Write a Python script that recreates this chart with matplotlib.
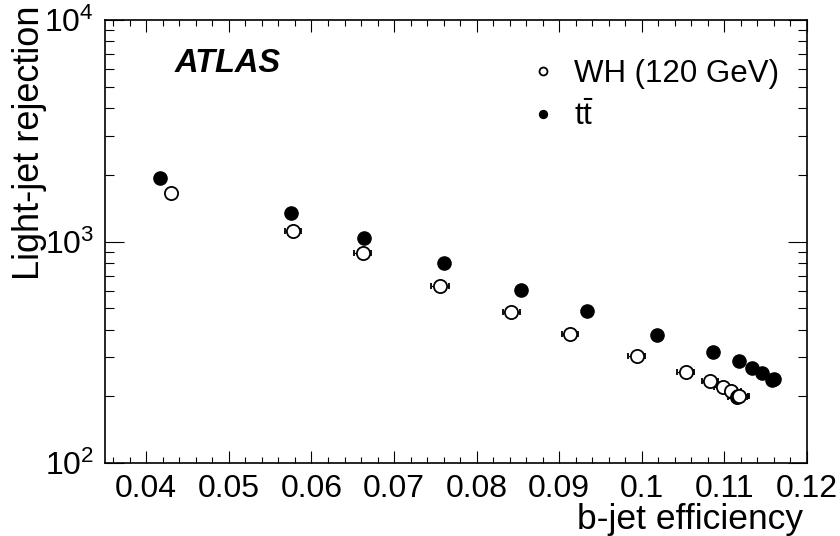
import matplotlib
matplotlib.use("Agg")
import matplotlib.pyplot as plt
from matplotlib.ticker import MultipleLocator, LogLocator
import numpy as np

plt.rcParams['font.family'] = 'Liberation Sans'
plt.rcParams['mathtext.fontset'] = 'custom'
plt.rcParams['mathtext.rm'] = 'Liberation Sans'
plt.rcParams['mathtext.it'] = 'Liberation Sans:italic'

# WH (120 GeV) sample, open markers
wh_eff = [0.04294, 0.05776, 0.06621, 0.07557, 0.08422, 0.09131, 0.09937,
          0.1053, 0.10823, 0.1098, 0.11085, 0.11158, 0.11170, 0.11180]
wh_rej = [1661, 1119, 885, 632, 482, 381, 305, 257, 235, 221, 212, 199, 201, 200]
wh_err = [0.0, 0.0010, 0.0010, 0.0011, 0.0010, 0.0010, 0.0010,
          0.0010, 0.0010, 0.0011, 0.0011, 0.0012, 0.0012, 0.0012]

# ttbar sample, filled markers
tt_eff = [0.04165, 0.05748, 0.06642, 0.07609, 0.08539, 0.09337, 0.1018,
          0.1086, 0.11174, 0.11331, 0.11452, 0.11572, 0.11600]
tt_rej = [1935, 1345, 1037, 799, 604, 486, 378, 317, 289, 268, 255, 237, 239]

xticks = [0.04, 0.05, 0.06, 0.07, 0.08, 0.09, 0.1, 0.11, 0.12]
xtick_labels = ['0.04', '0.05', '0.06', '0.07', '0.08', '0.09', '0.1', '0.11', '0.12']

fig = plt.figure(figsize=(8.4, 5.36), dpi=100)
ax = fig.add_axes([105 / 840, 1 - 463 / 536, 702 / 840, 443 / 536])

wh = ax.errorbar(wh_eff, wh_rej, xerr=wh_err, fmt='o', mfc='white', mec='black',
                 mew=1.3, ms=9.5, ecolor='black', elinewidth=0.9, capsize=2.5,
                 capthick=0.9, zorder=3)
tt, = ax.plot(tt_eff, tt_rej, 'o', color='black', ms=9.5, zorder=2)

ax.set_yscale('log')
ax.set_xlim(0.035, 0.12)
ax.set_ylim(100, 10000)

ax.xaxis.set_minor_locator(MultipleLocator(0.002))
ax.yaxis.set_major_locator(LogLocator(base=10))
ax.yaxis.set_minor_locator(LogLocator(base=10, subs=np.arange(2, 10)))
ax.set_xticks(xticks)
ax.set_xticklabels(xtick_labels)

ax.tick_params(which='both', direction='in', top=True, right=True, labelsize=23, width=0.8)
ax.tick_params(axis='x', which='major', length=8.6, pad=8)
ax.tick_params(axis='x', which='minor', length=4.3)
ax.tick_params(axis='y', which='major', length=13.7, pad=8)
ax.tick_params(axis='y', which='minor', length=6.8)
for s in ax.spines.values():
    s.set_linewidth(1.2)

fig.text(803 / 840, 1 - 519 / 536, 'b-jet efficiency', ha='right', va='center', fontsize=25.5)
fig.text(30 / 840, 1 - 6 / 536, 'Light-jet rejection', ha='center', va='top',
         rotation=90, fontsize=26)
fig.text(175 / 840, 1 - 63 / 536, 'ATLAS', ha='left', va='center', fontsize=23.5,
         fontweight='bold', fontstyle='italic')

leg = ax.legend([wh[0], tt], ['WH (120 GeV)', r'$\mathrm{t\bar{t}}$'],
                loc='upper left', bbox_to_anchor=(527 / 840, 1 - 59 / 536),
                bbox_transform=fig.transFigure, frameon=False, fontsize=22.5,
                markerscale=0.6, handlelength=1.0, handletextpad=0.5,
                labelspacing=0.39, borderaxespad=0, borderpad=0)

fig.savefig('out.png', dpi=100)
